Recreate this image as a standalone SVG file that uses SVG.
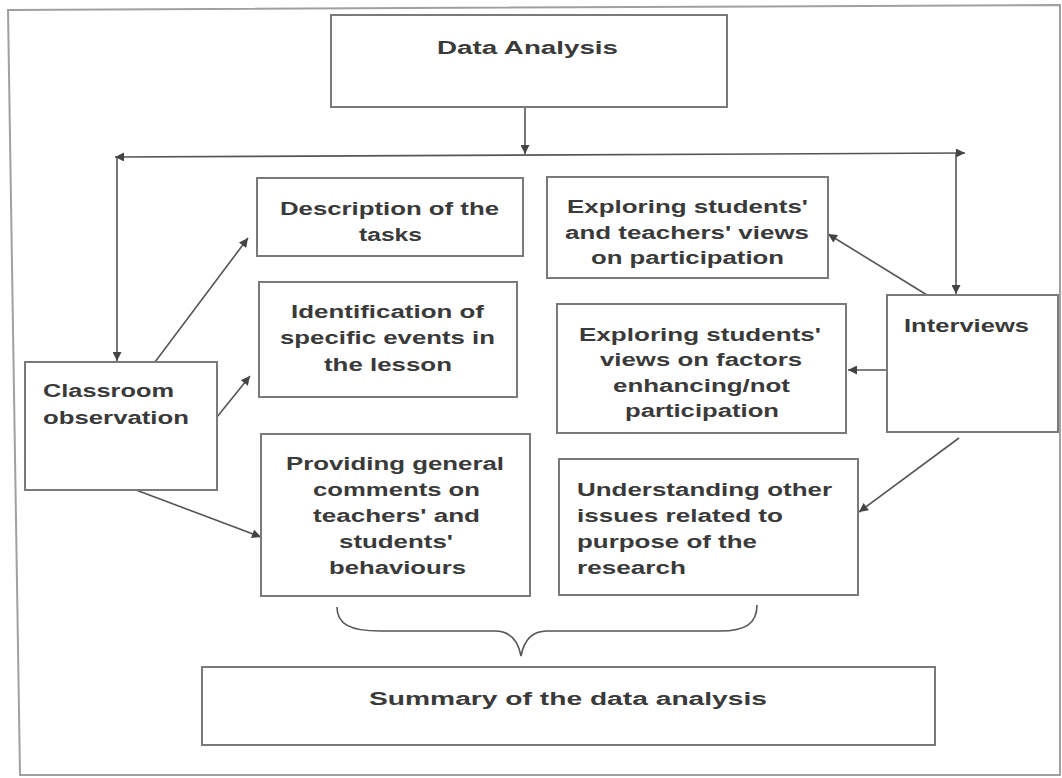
<svg xmlns="http://www.w3.org/2000/svg" width="1062" height="778" viewBox="0 0 1062 778">
<defs>
<style>
.box{fill:#fff;stroke:#7a7a7a;stroke-width:2}
.t{font-family:"Liberation Sans",Arial,sans-serif;font-weight:bold;font-size:18px;fill:#3a3a3a}
.c{fill:none;stroke:#555;stroke-width:1.6}
.frame{fill:#fff;stroke:#a0a0a0;stroke-width:2}
</style>
<marker id="ah" viewBox="0 0 10 10" refX="10" refY="5" markerWidth="10" markerHeight="9" markerUnits="userSpaceOnUse" orient="auto-start-reverse">
<path d="M0,0 L10,5 L0,10 z" fill="#444"/>
</marker>
</defs>
<rect width="1062" height="778" fill="#fff"/>
<polygon class="frame" points="8,10 1060,5 1060,775 20,775"/>

<g id="connectors">
<line class="c" x1="525" y1="107" x2="525" y2="154" marker-end="url(#ah)"/>
<line class="c" x1="115" y1="157" x2="965" y2="153" marker-start="url(#ah)" marker-end="url(#ah)"/>
<line class="c" x1="117" y1="157" x2="117" y2="361" marker-end="url(#ah)"/>
<line class="c" x1="956" y1="153" x2="956" y2="294" marker-end="url(#ah)"/>
<line class="c" x1="155" y1="362" x2="248" y2="238" marker-end="url(#ah)"/>
<line class="c" x1="217" y1="417" x2="250" y2="376" marker-end="url(#ah)"/>
<line class="c" x1="136" y1="490" x2="261" y2="537" marker-end="url(#ah)"/>
<line class="c" x1="927" y1="295" x2="828" y2="234" marker-end="url(#ah)"/>
<line class="c" x1="887" y1="370" x2="848" y2="370" marker-end="url(#ah)"/>
<line class="c" x1="959" y1="438" x2="859" y2="512" marker-end="url(#ah)"/>
<path class="c" d="M337,607 C337,624 350,631 380,631 L495,631 C510,631 518,640 521,656 C524,640 532,631 547,631 L720,631 C745,631 757,624 757,605"/>
</g>

<g id="data-analysis">
<rect class="box" x="331" y="15" width="396" height="92"/>
<text class="t" x="437" y="54" textLength="181" lengthAdjust="spacingAndGlyphs">Data Analysis</text>
</g>

<g id="description">
<rect class="box" x="257" y="178" width="266" height="78"/>
<text class="t" x="280" y="215" textLength="219" lengthAdjust="spacingAndGlyphs">Description of the</text>
<text class="t" x="359" y="241" textLength="63" lengthAdjust="spacingAndGlyphs">tasks</text>
</g>

<g id="identification">
<rect class="box" x="259" y="282" width="258" height="115"/>
<text class="t" x="291" y="318" textLength="193" lengthAdjust="spacingAndGlyphs">Identification of</text>
<text class="t" x="280" y="344" textLength="215" lengthAdjust="spacingAndGlyphs">specific events in</text>
<text class="t" x="324" y="371" textLength="128" lengthAdjust="spacingAndGlyphs">the lesson</text>
</g>

<g id="classroom">
<rect class="box" x="25" y="362" width="192" height="128"/>
<text class="t" x="43" y="397" textLength="131" lengthAdjust="spacingAndGlyphs">Classroom</text>
<text class="t" x="43" y="424" textLength="146" lengthAdjust="spacingAndGlyphs">observation</text>
</g>

<g id="providing">
<rect class="box" x="261" y="434" width="269" height="162"/>
<text class="t" x="286" y="470" textLength="218" lengthAdjust="spacingAndGlyphs">Providing general</text>
<text class="t" x="313" y="496" textLength="167" lengthAdjust="spacingAndGlyphs">comments on</text>
<text class="t" x="313" y="522" textLength="167" lengthAdjust="spacingAndGlyphs">teachers' and</text>
<text class="t" x="339" y="548" textLength="114" lengthAdjust="spacingAndGlyphs">students'</text>
<text class="t" x="329" y="574" textLength="137" lengthAdjust="spacingAndGlyphs">behaviours</text>
</g>

<g id="exploring-views">
<rect class="box" x="547" y="177" width="281" height="101"/>
<text class="t" x="567" y="213" textLength="241" lengthAdjust="spacingAndGlyphs">Exploring students'</text>
<text class="t" x="565" y="239" textLength="244" lengthAdjust="spacingAndGlyphs">and teachers' views</text>
<text class="t" x="591" y="264" textLength="193" lengthAdjust="spacingAndGlyphs">on participation</text>
</g>

<g id="exploring-factors">
<rect class="box" x="557" y="304" width="289" height="129"/>
<text class="t" x="579" y="341" textLength="242" lengthAdjust="spacingAndGlyphs">Exploring students'</text>
<text class="t" x="600" y="366" textLength="202" lengthAdjust="spacingAndGlyphs">views on factors</text>
<text class="t" x="613" y="392" textLength="177" lengthAdjust="spacingAndGlyphs">enhancing/not</text>
<text class="t" x="625" y="417" textLength="154" lengthAdjust="spacingAndGlyphs">participation</text>
</g>

<g id="interviews">
<rect class="box" x="887" y="295" width="171" height="137"/>
<text class="t" x="904" y="332" textLength="125" lengthAdjust="spacingAndGlyphs">Interviews</text>
</g>

<g id="understanding">
<rect class="box" x="559" y="459" width="299" height="136"/>
<text class="t" x="577" y="496" textLength="255" lengthAdjust="spacingAndGlyphs">Understanding other</text>
<text class="t" x="577" y="522" textLength="206" lengthAdjust="spacingAndGlyphs">issues related to</text>
<text class="t" x="577" y="548" textLength="180" lengthAdjust="spacingAndGlyphs">purpose of the</text>
<text class="t" x="577" y="574" textLength="109" lengthAdjust="spacingAndGlyphs">research</text>
</g>

<g id="summary">
<rect class="box" x="202" y="667" width="733" height="78"/>
<text class="t" x="369" y="705" textLength="398" lengthAdjust="spacingAndGlyphs">Summary of the data analysis</text>
</g>
</svg>
